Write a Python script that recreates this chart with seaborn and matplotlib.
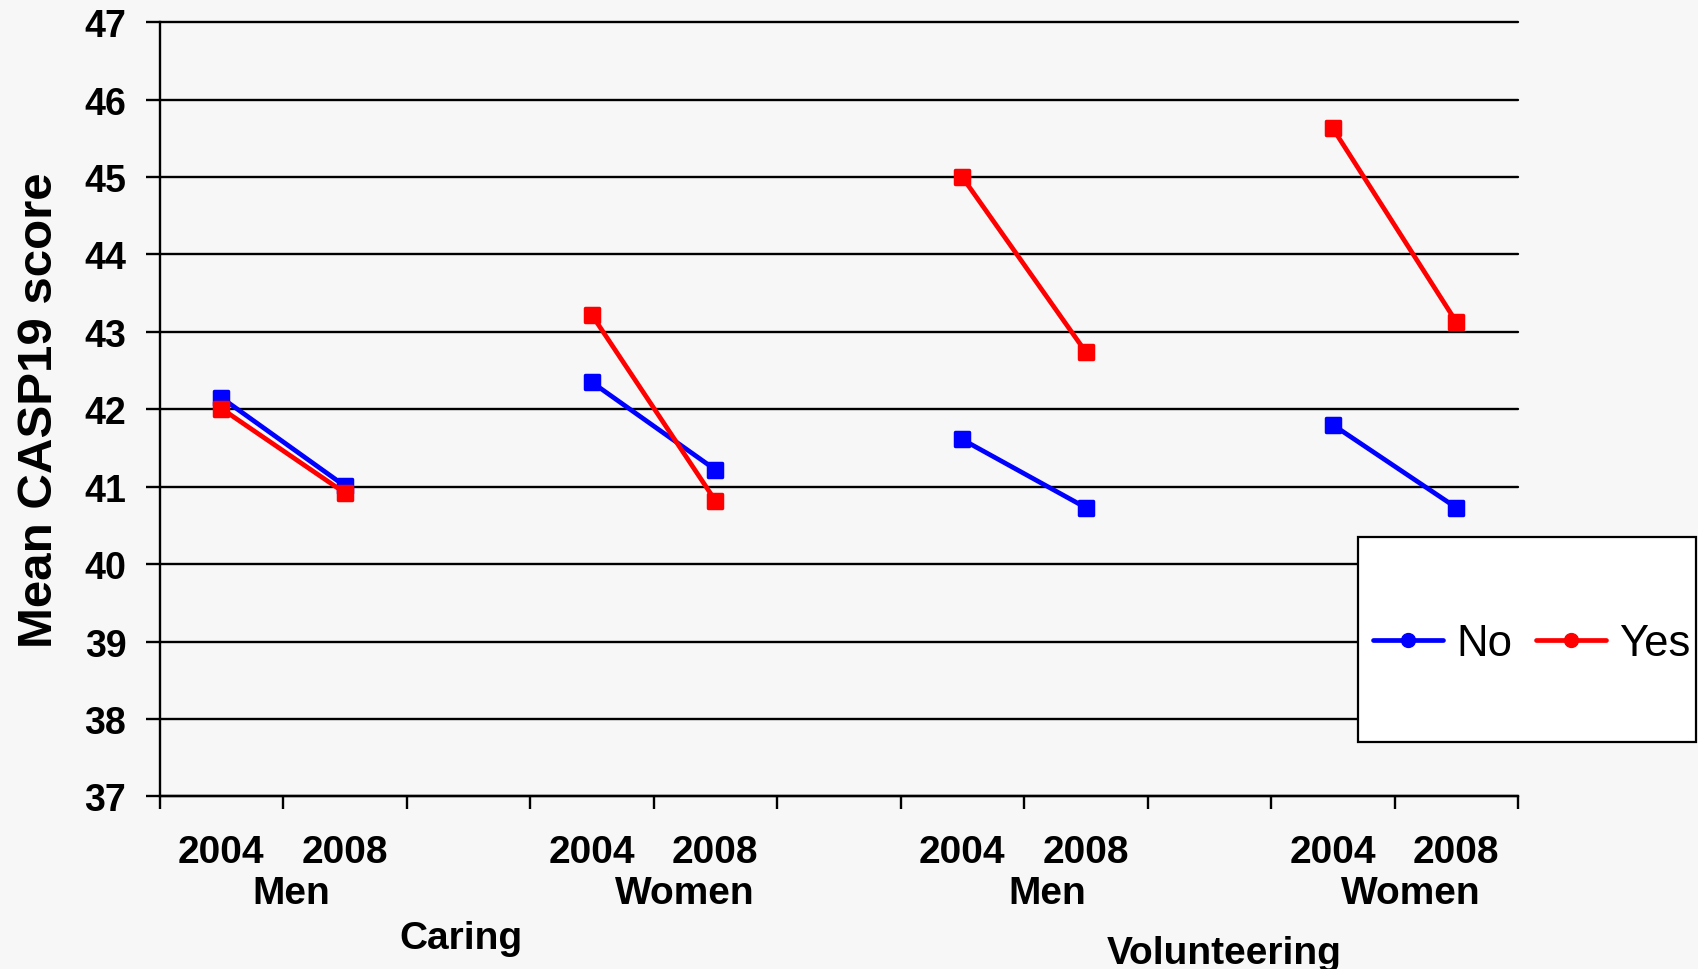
import matplotlib
matplotlib.use("Agg")
import matplotlib.pyplot as plt
from matplotlib.lines import Line2D
from matplotlib.markers import MarkerStyle
from matplotlib.patches import Rectangle
import numpy as np
import pandas as pd
import seaborn as sns

# ---- data ----
years = ["2004", "2008"]
groups = ["Men", "Women", "Men", "Women"]
activities = ["Caring", "Volunteering"]
responses = ["No", "Yes"]
no_2004 = [42.15, 42.35, 41.61, 41.80]
no_2008 = [41.01, 41.22, 40.73, 40.73]
yes_2004 = [42.01, 43.22, 45.00, 45.63]
yes_2008 = [40.92, 40.82, 42.74, 43.13]
colors = {"No": "#0000ff", "Yes": "#ff0000"}

rows = []
series = {"No": (no_2004, no_2008), "Yes": (yes_2004, yes_2008)}
for g in range(len(groups)):
    for resp in responses:
        v04, v08 = series[resp]
        for k, v in enumerate((v04[g], v08[g])):
            rows.append(dict(pos=3 * g + k, value=v, seg=f"{g}-{resp}", response=resp))
df = pd.DataFrame(rows)

sns.set_theme(style="white")
plt.rcParams["font.family"] = ["Liberation Sans", "DejaVu Sans"]
plt.rcParams["text.color"] = "black"
plt.rcParams["axes.labelcolor"] = "black"
plt.rcParams["xtick.color"] = "black"
plt.rcParams["ytick.color"] = "black"

bg = "#f7f7f8"
fig = plt.figure(figsize=(16.98, 9.70), dpi=100, facecolor=bg)
ax = fig.add_axes([0.094, 0.178, 0.800, 0.798])
ax.set_facecolor(bg)

mk = MarkerStyle("s", joinstyle="round")
sns.lineplot(data=df, x="pos", y="value", hue="response", hue_order=responses,
             units="seg", estimator=None, sort=False, palette=colors,
             marker=mk, markersize=9.5, markeredgewidth=2.5, linewidth=3.4,
             legend=False, ax=ax, zorder=3)
for ln in ax.lines:
    ln.set_markeredgecolor(ln.get_color())
    ln.set_markerfacecolor(ln.get_color())

ax.set_xlim(-0.5, 10.5)
ax.set_ylim(37, 47)
ax.set_yticks(np.arange(37, 48, 1))
ax.set_yticklabels([str(v) for v in range(37, 48)], fontsize=27, fontweight="bold")
ax.yaxis.grid(True, color="black", linewidth=1.7)
ax.set_axisbelow(True)
for gl in ax.get_ygridlines():
    gl.set_clip_on(False)

# category boundaries as major ticks, year labels as minor ticks
ax.set_xticks(np.arange(-0.5, 11, 1.0))
ax.set_xticklabels([])
year_pos = [3 * g + k for g in range(len(groups)) for k in range(2)]
ax.set_xticks(year_pos, minor=True)
ax.set_xticklabels(years * len(groups), minor=True, fontsize=28, fontweight="bold")
ax.tick_params(axis="x", which="major", direction="out", length=9, width=1.7, color="black", bottom=True)
ax.tick_params(axis="x", which="minor", length=0, pad=27)
ax.tick_params(axis="y", direction="out", length=10, width=1.7, color="black", left=True, pad=14)
ax.set_xlabel("")
ax.set_ylabel("Mean CASP19 score", fontsize=35.5, fontweight="bold", labelpad=16)

for side in ["top", "right"]:
    ax.spines[side].set_visible(False)
for side in ["left", "bottom"]:
    ax.spines[side].set_color("black")
    ax.spines[side].set_linewidth(1.7)

trans = ax.get_xaxis_transform()
group_x = [0.57, 3.75, 6.69, 9.63]
for gx, name in zip(group_x, groups):
    ax.text(gx, -0.125, name, transform=trans, ha="center", va="center",
            fontsize=28, fontweight="bold")
ax.text(1.94, -0.183, activities[0], transform=trans, ha="center", va="center",
        fontsize=28, fontweight="bold")
ax.text(8.12, -0.202, activities[1], transform=trans, ha="center", va="center",
        fontsize=28, fontweight="bold")

# legend box
lx0, ly0, lw, lh = 1358 / 1698, 1 - 743 / 970, (1696 - 1358) / 1698, (743 - 538) / 970
fig.patches.append(Rectangle((lx0, ly0), lw, lh, transform=fig.transFigure,
                             facecolor="white", edgecolor="black", linewidth=1.6, zorder=5))
handles = [Line2D([0], [0], color=colors[r], linewidth=3.4, marker="o", markersize=10)
           for r in responses]
leg = fig.legend(handles, responses, loc="center", bbox_to_anchor=(lx0 + lw / 2 + 0.003, ly0 + lh / 2 - 0.004),
                 ncol=2, frameon=False, fontsize=31.5, handlelength=1.6, handletextpad=0.3,
                 columnspacing=0.55)
leg.set_zorder(6)

fig.savefig("out.png", dpi=100, facecolor=bg)
